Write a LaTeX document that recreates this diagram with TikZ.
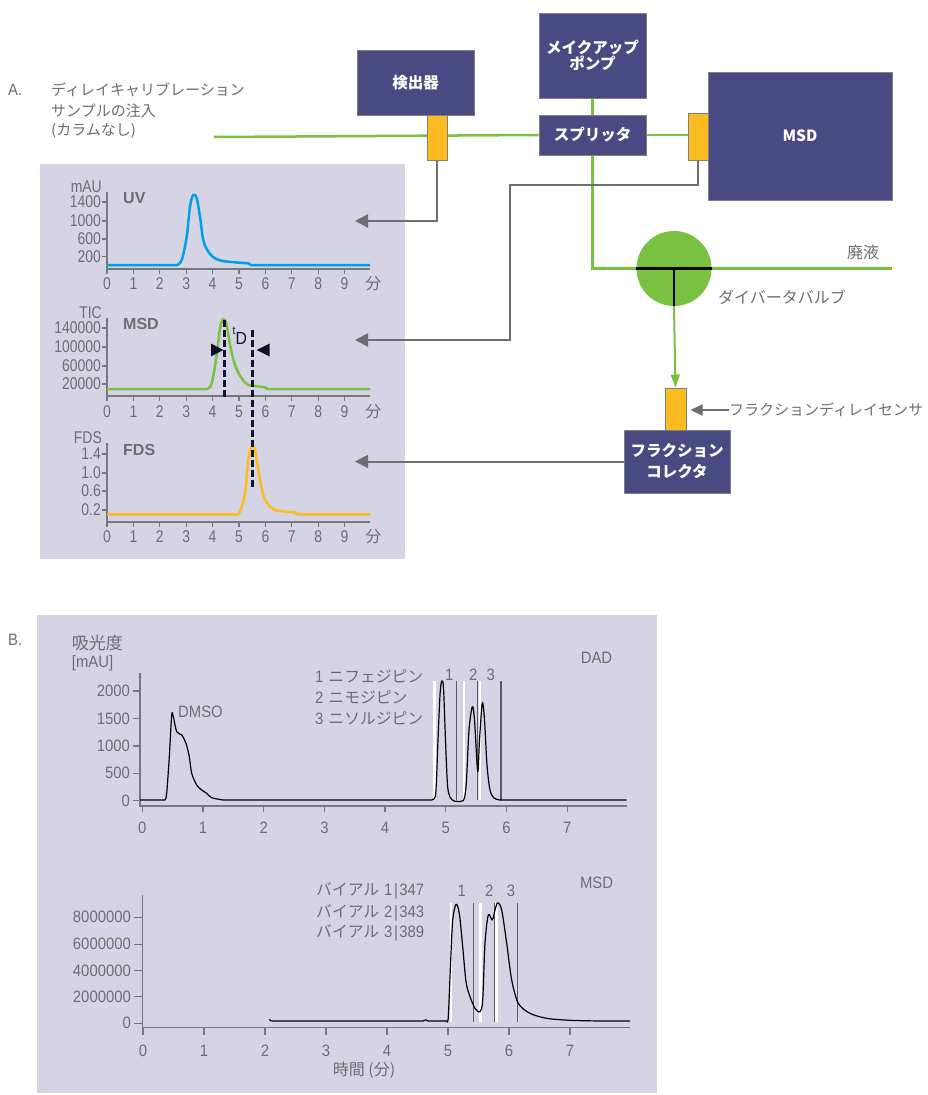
\documentclass[tikz,border=0pt]{standalone}
\usepackage{fontspec}
\usetikzlibrary{arrows.meta}
\newfontfamily\jp{Noto Sans CJK JP}
\newfontfamily\numA{Liberation Sans}[FakeStretch=0.82]
\newfontfamily\numB{Liberation Sans}[FakeStretch=0.9]
\newfontfamily\lsans{Liberation Sans}
\definecolor{panelc}{RGB}{212,212,228}
\definecolor{boxc}{RGB}{74,74,130}
\definecolor{boxline}{RGB}{128,128,128}
\definecolor{grn}{RGB}{122,193,66}
\definecolor{ylw}{RGB}{252,187,33}
\definecolor{bluec}{RGB}{0,161,228}
\definecolor{txtg}{RGB}{109,110,113}
\definecolor{conng}{RGB}{109,110,113}
\definecolor{axg}{RGB}{120,120,124}
\definecolor{navy}{RGB}{20,20,50}
\definecolor{mk}{RGB}{90,90,95}
\pgfdeclarelayer{bg}
\pgfsetlayers{bg,main}
\tikzset{
  box/.style={draw=boxline, fill=boxc, text=white, font=\jp\bfseries\fontsize{15.5}{17}\selectfont, align=center, inner sep=0pt, line width=1pt},
  sensor/.style={draw=boxline, fill=ylw, inner sep=0pt, line width=1pt},
  gline/.style={draw=grn, line width=2.5pt},
  conn/.style={draw=conng, line width=2pt, -{Triangle[length=13pt,width=13pt]}},
  lbl/.style={text=txtg, font=\jp\fontsize{15}{18}\selectfont, inner sep=0pt},
  tickA/.style={text=txtg, font=\numA\fontsize{17}{17}\selectfont, inner sep=0pt},
  tickB/.style={text=txtg, font=\numB\fontsize{16.5}{17}\selectfont, inner sep=0pt},
  jplbl/.style={text=txtg, font=\jp\fontsize{15}{16}\selectfont, inner sep=0pt},
  cmplbl/.style={text=txtg, font=\jp\fontsize{15.8}{16}\selectfont, inner sep=0pt},
  chlbl/.style={text=txtg, font=\lsans\bfseries\fontsize{16}{16}\selectfont, inner sep=0pt},
  axis/.style={draw=axg, line width=1.3pt},
  dashline/.style={draw=navy, line width=2.5pt, dash pattern=on 6.5pt off 3.5pt},
  whiteline/.style={draw=white, line width=2.5pt},
  grayline/.style={draw=mk, line width=1.1pt},
}
\newcommand{\nb}[1]{{\numB\fontsize{16.5}{17}\selectfont #1}}
\newcommand{\vbar}{\hspace{1.5pt}|\hspace{1.5pt}}
\begin{document}
\begin{tikzpicture}[x=1pt,y=-1pt]
\useasboundingbox (0,0) rectangle (928,1095);
\begin{pgfonlayer}{bg}
  \fill[white] (0,0) rectangle (928,1095);
  \fill[panelc] (40,164) rectangle (405,559);
  \fill[panelc] (37,615) rectangle (657,1093);
\end{pgfonlayer}

% ---------- schematic A ----------
\node[text=txtg, font=\numB\fontsize{16.5}{17}\selectfont, inner sep=0pt, anchor=west] (labA) at (8,90) {A.};
\node[lbl, anchor=west] (desc1) at (51,90) {ディレイキャリブレーション};
\node[lbl, anchor=west] (desc2) at (51,111) {サンプルの注入};
\node[lbl, anchor=west] (desc3) at (51,131) {(カラムなし)};

\node[box, minimum width=117pt, minimum height=65pt] (det) at (415.5,82.5) {検出器};
\node[box, minimum width=107pt, minimum height=85pt, font=\jp\bfseries\fontsize{15.5}{16}\selectfont] (pump) at (592.5,55.5) {メイクアップ\\ポンプ};
\node[box, minimum width=107pt, minimum height=40pt] (split) at (592.5,135) {スプリッタ};
\node[box, minimum width=184pt, minimum height=128pt] (msd) at (800,136) {MSD};
\node[sensor, minimum width=20pt, minimum height=45pt] (sens1) at (437,137.5) {};
\node[sensor, minimum width=20pt, minimum height=47pt] (sens2) at (698,136.5) {};
\node[circle, fill=grn, minimum size=75pt, inner sep=0pt] (valve) at (674,268.5) {};
\node[sensor, minimum width=21pt, minimum height=42pt] (sens3) at (675.5,409) {};
\node[box, minimum width=106pt, minimum height=63pt, font=\jp\bfseries\fontsize{15.5}{21}\selectfont] (fc) at (677,461.5) {フラクション\\コレクタ};

\coordinate (inlet) at (214,137);
\coordinate (waste) at (892,268.5);
\coordinate (uvtip) at (355,221);
\coordinate (msdbend) at (510,185);
\coordinate (msdtip) at (355,340);
\coordinate (fdstip) at (355,461.5);

\begin{pgfonlayer}{bg}
  \draw[gline] (inlet) -- (split.west);
  \draw[gline] (split.east) -- (split.east -| sens2.west);
  \draw[gline] (pump.south) -- (split.north);
  \draw[gline] (split.south) |- (waste);
  \draw[conn] (sens1.south) |- (uvtip);
  \draw[conn] (sens2.south) |- (msdbend) |- (msdtip);
  \draw[conn] (fc.west) -- (fdstip);
\end{pgfonlayer}

\draw[black, line width=2.5pt] (valve.west) -- (valve.east);
\draw[black, line width=2.5pt] (valve.center) -- (valve.south);
\draw[draw=grn, line width=2pt, -{Triangle[length=13pt,width=9pt]}] (valve.south) -- (sens3.north);

\node[lbl, font=\jp\fontsize{16}{18}\selectfont] (wastelbl) at (863,252) {廃液};
\node[lbl, font=\jp\fontsize{16}{18}\selectfont, anchor=west] (valvelbl) at (718,297) {ダイバータバルブ};
\node[lbl, anchor=west] (fdslbl) at (729,410) {フラクションディレイセンサ};
\draw[draw=conng, line width=2pt, -{Triangle[length=12pt,width=11pt]}, shorten >=4pt] (fdslbl.west) -- (sens3.east |- fdslbl.west);

% ---------- UV chart ----------
\draw[axis] (107,192) -- (107,269) -- (370,269);
\foreach \i in {0,...,9} {
  \draw[axis] ({107+26.4*\i},269) -- ({107+26.4*\i},273.5);
  \node[tickA] (uvx\i) at ({107+26.4*\i},284) {\i};
}
\node[jplbl, font=\jp\fontsize{16}{16}\selectfont] (uvmin) at (373.3,284) {分};
\foreach \v/\y in {1400/202,1000/221,600/239,200/256.7} {
  \draw[axis] (102,\y) -- (107,\y);
  \node[tickA, anchor=east] (uvy\v) at (101,\y) {\v};
}
\node[tickA, anchor=east] (uvunit) at (102,187) {mAU};
\node[chlbl, anchor=west] (uvname) at (123,198) {UV};
\draw[draw=bluec, line width=2.5pt, line join=round] (107,265) -- (176.7,265) -- plot[smooth,tension=0.6] coordinates {(176.7,265) (181.7,260) (186.7,236.7) (190,206.7) (193.3,195) (196.7,198.3) (200,216.7) (203.3,240) (208.3,251.7) (216.7,259.3) (228.3,261.7) (248.3,263.3)} -- (251,265) -- (370,265);

% ---------- MSD chart ----------
\draw[axis] (107,318) -- (107,396) -- (370,396);
\foreach \i in {0,...,9} {
  \draw[axis] ({107+26.4*\i},396) -- ({107+26.4*\i},400.5);
  \node[tickA] (msx\i) at ({107+26.4*\i},411.7) {\i};
}
\node[jplbl, font=\jp\fontsize{16}{16}\selectfont] (msmin) at (373.3,411.7) {分};
\foreach \v/\y in {140000/328,100000/347,60000/366,20000/384} {
  \draw[axis] (102,\y) -- (107,\y);
  \node[tickA, anchor=east] (msy\v) at (101,\y) {\v};
}
\node[tickA, anchor=east] (msunit) at (102,313) {TIC};
\node[chlbl, anchor=west] (msname) at (123,324) {MSD};
\draw[draw=grn, line width=2.5pt, line join=round] (107,389) -- (207,389) -- plot[smooth,tension=0.6] coordinates {(207,389) (211.7,383.3) (216.7,355) (220,328.3) (223.3,319) (226.7,325) (230,345) (235,365) (241.7,378.3) (248.3,385) (255,386) (265,387.3)} -- (267.3,389) -- (370,389);

% ---------- FDS chart ----------
\draw[axis] (107,443) -- (107,522) -- (370,522);
\foreach \i in {0,...,9} {
  \draw[axis] ({107+26.4*\i},522) -- ({107+26.4*\i},526.5);
  \node[tickA] (fdx\i) at ({107+26.4*\i},536.7) {\i};
}
\node[jplbl, font=\jp\fontsize{16}{16}\selectfont] (fdmin) at (373.3,536.7) {分};
\foreach \v/\y/\n in {1.4/454/a,1.0/473/b,0.6/491/c,0.2/510/d} {
  \draw[axis] (102,\y) -- (107,\y);
  \node[tickA, anchor=east] (fdy\n) at (101,\y) {\v};
}
\node[tickA, anchor=east] (fdunit) at (102,438) {FDS};
\node[chlbl, anchor=west] (fdname) at (123,450) {FDS};
\draw[draw=ylw, line width=2.5pt, line join=round] (107,514.3) -- (236.7,514.3) -- plot[smooth,tension=0.6] coordinates {(236.7,514.3) (240,511.7) (245,493.3) (248.3,460) (251.7,446.7) (255,450) (258.3,470) (263.3,495) (270,506.7) (278.3,510.7) (295,512.3)} -- (296.7,514.3) -- (370,514.3);

% delay markers
\draw[dashline] (224.3,320) -- (224.3,397);
\draw[dashline] (252.3,330) -- (252.3,488);
\fill[navy!80!black] (211,343.5) -- (223.3,350) -- (211,356.5) -- cycle;
\fill[navy!80!black] (269.5,343.5) -- (256.7,350) -- (269.5,356.5) -- cycle;
\node[text=navy, font=\numB\fontsize{17.5}{18}\selectfont, inner sep=0pt, anchor=base west] (td) at (232.5,344) {\raisebox{9.5pt}{\fontsize{11.5}{12}\selectfont t}D};

% ---------- B: DAD ----------
\node[text=txtg, font=\numB\fontsize{16.5}{17}\selectfont, inner sep=0pt, anchor=west] (labB) at (8,640) {B.};
\node[jplbl, font=\jp\fontsize{17}{18}\selectfont, anchor=west] (absl) at (71.7,643) {吸光度};
\node[tickB, anchor=west] (absu) at (71.7,663) {[mAU]};
\draw[axis] (140,673) -- (140,806) -- (626.7,806);
\foreach \i in {0,...,7} {
  \draw[axis] ({142.3+60.7*\i},806) -- ({142.3+60.7*\i},811.7);
  \node[tickB] (dax\i) at ({142.3+60.7*\i},828) {\i};
}
\foreach \v/\y in {2000/691,1500/718.7,1000/746,500/773.3,0/800.7} {
  \draw[axis] (132.7,\y) -- (140,\y);
  \node[tickB, anchor=east] (day\v) at (130,\y) {\v};
}
\node[tickB, anchor=west] (dmso) at (178,711.7) {DMSO};
\node[tickB] (dadname) at (596.5,658) {DAD};
\node[cmplbl, anchor=west] (cmp1) at (315,676.7) {\nb{1}\hspace{5pt}ニフェジピン};
\node[cmplbl, anchor=west] (cmp2) at (315,697) {\nb{2}\hspace{5pt}ニモジピン};
\node[cmplbl, anchor=west] (cmp3) at (315,718.3) {\nb{3}\hspace{5pt}ニソルジピン};
\node[tickB] (dp1) at (449.3,675) {1};
\node[tickB] (dp2) at (473.3,675) {2};
\node[tickB] (dp3) at (490.7,675) {3};
\foreach \x in {434.3,464,480} \draw[whiteline] (\x,681) -- (\x,800);
\foreach \x in {456.7,477.3,501} \draw[grayline] (\x,681) -- (\x,800);
\draw[black, line width=1.2pt, line join=round] (140,800) -- (165,800) -- plot[smooth,tension=0.5] coordinates {(165,800) (166.7,793.3) (169.3,756.7) (171.7,715) (173.3,716.7) (176.7,731.7) (181.7,735) (186,743.3) (189.3,756.7) (191.7,773.3) (196.7,785) (201.7,790) (206.7,793.3) (211.7,797.7) (223.3,800)} -- (430,800) -- plot[smooth,tension=0.5] coordinates {(430,800) (434,799) (436,790) (438,740) (440,695) (441.7,681) (443.5,688) (445.5,740) (447.5,785) (450,797) (454,801) (458,801.5) (462,801) (464.5,798) (466.5,780) (469,730) (472.3,706.7) (474.5,720) (477.7,771.7) (479.5,740) (482.3,702.7) (484.5,720) (487,765) (490,790) (494,798) (500,800)} -- (626.7,800);

% ---------- B: MSD ----------
\draw[axis] (142.3,895) -- (142.3,1035);
\draw[axis] (142.3,1027.7) -- (630,1027.7);
\foreach \i in {0,...,7} {
  \draw[axis] ({143+61*\i},1027.7) -- ({143+61*\i},1035);
  \node[tickB] (mbx\i) at ({143+61*\i},1050.7) {\i};
}
\foreach \v/\y in {8000000/917.3,6000000/944.3,4000000/970.7,2000000/996.7,0/1023.3} {
  \draw[axis] (134,\y) -- (142.3,\y);
  \node[tickB, anchor=east] (mby\v) at (131,\y) {\v};
}
\node[jplbl, font=\jp\fontsize{16}{16}\selectfont] (timelbl) at (364,1070) {時間 (分)};
\node[tickB] (msdname) at (596.5,882.7) {MSD};
\node[cmplbl, anchor=west] (vial1) at (316,891) {バイアル\hspace{5pt}\nb{1\vbar347}};
\node[cmplbl, anchor=west] (vial2) at (316,912.3) {バイアル\hspace{5pt}\nb{2\vbar343}};
\node[cmplbl, anchor=west] (vial3) at (316,932.7) {バイアル\hspace{5pt}\nb{3\vbar389}};
\node[tickB] (mp1) at (461.7,891) {1};
\node[tickB] (mp2) at (489.3,891) {2};
\node[tickB] (mp3) at (511,891) {3};
\foreach \x in {451,480.7,496.7} \draw[whiteline] (\x,903.3) -- (\x,1021.7);
\foreach \x in {473.3,494.3,517.7} \draw[grayline] (\x,903.3) -- (\x,1021.7);
\draw[black, line width=1.2pt, line join=round] plot[smooth] coordinates {(269.3,1019.3) (271,1020.8) (275,1021)} -- (423,1021) -- (425.5,1019.8) -- (428,1021) -- (446.7,1021) -- plot[smooth,tension=0.5] coordinates {(446.7,1021) (448.3,1016.7) (450.7,960) (452.7,920) (456,904.3) (459.3,913.3) (462.7,946.7) (466,981.7) (470,996.7) (475,1008.3) (480,1011.7) (482.7,1000) (485,943.3) (488.3,915) (492.3,920) (495,910) (497.7,902.7) (501.7,910) (506.7,943.3) (511.7,980) (518.3,1003.3) (530,1013.3) (546.7,1018.3) (570,1020.3) (600,1021)} -- (630,1021);
\end{tikzpicture}
\end{document}
